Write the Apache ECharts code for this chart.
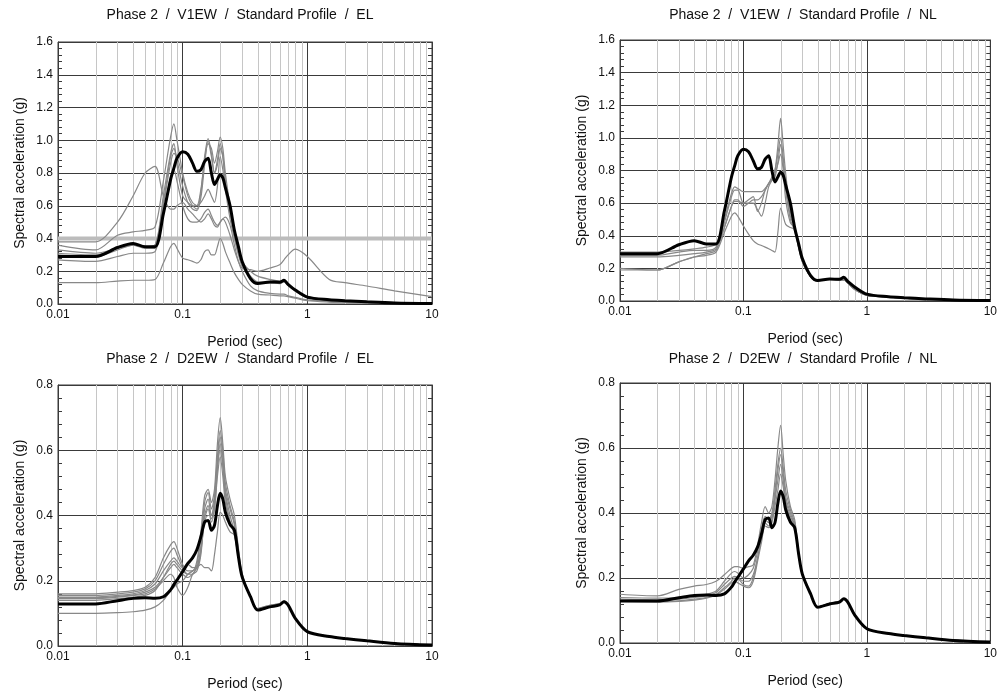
<!DOCTYPE html>
<html>
<head>
<meta charset="utf-8">
<script src="https://cdn.jsdelivr.net/npm/echarts@6/dist/echarts.min.js"></script>
<style>
  html, body { margin: 0; padding: 0; background: #fff; }
  #chart { width: 1000px; height: 696px; }
</style>
</head>
<body>
<div id="chart"></div>
<script>
// Response spectra: spectral acceleration (g) vs period (sec), log period axis.
const periods = [
  0.01, 0.02, 0.03, 0.04, 0.05, 0.06, 0.07, 0.08, 0.085, 0.09,
  0.1, 0.11, 0.12, 0.13, 0.14, 0.15, 0.16, 0.17, 0.18, 0.19,
  0.2, 0.21, 0.22, 0.24, 0.26, 0.28, 0.3, 0.35, 0.4, 0.5,
  0.6, 0.65, 0.7, 0.8, 1, 1.5, 2, 3, 5, 10
];
const xTicks = ['0.01', '0.1', '1', '10'];

// V1EW target (black) — shared by EL and NL
const v1ewTarget = [
  0.29, 0.29, 0.345, 0.37, 0.35, 0.35, 0.55, 0.76, 0.83, 0.89,
  0.93, 0.915, 0.86, 0.81, 0.82, 0.87, 0.89, 0.80, 0.73, 0.76,
  0.79, 0.77, 0.71, 0.60, 0.45, 0.35, 0.26, 0.155, 0.125, 0.135,
  0.133, 0.145, 0.12, 0.085, 0.042, 0.026, 0.02, 0.013, 0.006, 0.003
];

// V1EW / EL records
const v1ewEL1 = [
  0.36, 0.33, 0.42, 0.44, 0.45, 0.47, 0.75, 1.02, 1.10, 1.0,
  0.80, 0.68, 0.62, 0.60, 0.70, 0.88, 0.98, 0.95, 0.86, 0.93,
  1.02, 0.95, 0.80, 0.60, 0.45, 0.34, 0.26, 0.20, 0.17, 0.15,
  0.14, 0.145, 0.125, 0.085, 0.045, 0.025, 0.02, 0.013, 0.006, 0.003
];
const v1ewEL2 = [
  0.38, 0.38, 0.50, 0.66, 0.80, 0.84, 0.66, 0.58, 0.58, 0.60,
  0.62, 0.58, 0.55, 0.52, 0.50, 0.52, 0.55, 0.52, 0.48, 0.47,
  0.50, 0.52, 0.50, 0.42, 0.33, 0.26, 0.22, 0.21, 0.20, 0.22,
  0.24, 0.27, 0.30, 0.335, 0.29, 0.15, 0.13, 0.11, 0.08, 0.045
];
const v1ewEL3 = [
  0.33, 0.31, 0.34, 0.36, 0.35, 0.36, 0.62, 0.90, 0.95, 0.88,
  0.72, 0.62, 0.58, 0.57, 0.65, 0.85, 1.0, 0.90, 0.80, 0.88,
  0.98, 0.90, 0.74, 0.56, 0.42, 0.32, 0.24, 0.16, 0.13, 0.13,
  0.13, 0.14, 0.12, 0.08, 0.04, 0.022, 0.018, 0.012, 0.005, 0.002
];
const v1ewEL4 = [
  0.31, 0.30, 0.34, 0.36, 0.35, 0.36, 0.66, 0.92, 0.98, 0.85,
  0.66, 0.62, 0.60, 0.60, 0.62, 0.66, 0.70, 0.66, 0.62, 0.72,
  0.90, 0.82, 0.70, 0.52, 0.40, 0.30, 0.23, 0.16, 0.13, 0.13,
  0.125, 0.135, 0.115, 0.08, 0.04, 0.022, 0.018, 0.012, 0.005, 0.002
];
const v1ewEL5 = [
  0.27, 0.26, 0.29, 0.31, 0.31, 0.32, 0.55, 0.78, 0.82, 0.75,
  0.60, 0.52, 0.50, 0.50, 0.52, 0.56, 0.58, 0.54, 0.50, 0.48,
  0.50, 0.52, 0.53, 0.48, 0.36, 0.26, 0.20, 0.11, 0.08, 0.065,
  0.06, 0.06, 0.05, 0.04, 0.025, 0.015, 0.012, 0.008, 0.004, 0.002
];
const v1ewEL6 = [
  0.13, 0.13, 0.14, 0.145, 0.145, 0.15, 0.25, 0.35, 0.37, 0.34,
  0.28, 0.27, 0.26, 0.25, 0.27, 0.32, 0.33, 0.30, 0.30, 0.35,
  0.40, 0.37, 0.32, 0.25, 0.19, 0.15, 0.12, 0.08, 0.06, 0.055,
  0.05, 0.05, 0.045, 0.035, 0.02, 0.012, 0.01, 0.007, 0.004, 0.002
];
const v1ewEL7 = [
  0.30, 0.29, 0.33, 0.36, 0.34, 0.34, 0.60, 0.86, 0.92, 0.90,
  0.78, 0.66, 0.60, 0.58, 0.68, 0.90, 1.01, 0.92, 0.80, 0.85,
  0.95, 0.90, 0.76, 0.56, 0.44, 0.33, 0.25, 0.17, 0.135, 0.13,
  0.13, 0.14, 0.12, 0.085, 0.042, 0.024, 0.02, 0.013, 0.006, 0.003
];

// V1EW / NL records
const v1ewNL1 = [
  0.30, 0.30, 0.31, 0.32, 0.33, 0.35, 0.50, 0.66, 0.70, 0.69,
  0.67, 0.67, 0.67, 0.67, 0.67, 0.69, 0.72, 0.76, 0.80, 0.95,
  1.12, 0.95, 0.78, 0.55, 0.45, 0.33, 0.25, 0.15, 0.125, 0.135,
  0.13, 0.13, 0.11, 0.07, 0.035, 0.025, 0.018, 0.012, 0.006, 0.002
];
const v1ewNL2 = [
  0.28, 0.28, 0.30, 0.31, 0.31, 0.33, 0.48, 0.64, 0.68, 0.68,
  0.60, 0.62, 0.64, 0.55, 0.60, 0.68, 0.72, 0.75, 0.80, 0.90,
  1.0, 0.88, 0.72, 0.52, 0.45, 0.34, 0.25, 0.15, 0.125, 0.135,
  0.13, 0.13, 0.11, 0.07, 0.035, 0.025, 0.018, 0.012, 0.006, 0.002
];
const v1ewNL3 = [
  0.27, 0.27, 0.28, 0.29, 0.30, 0.32, 0.45, 0.58, 0.61, 0.61,
  0.60, 0.60, 0.60, 0.56, 0.52, 0.60, 0.70, 0.74, 0.78, 0.84,
  0.90, 0.80, 0.62, 0.48, 0.45, 0.35, 0.24, 0.15, 0.125, 0.135,
  0.13, 0.13, 0.11, 0.07, 0.035, 0.025, 0.018, 0.012, 0.006, 0.002
];
const v1ewNL4 = [
  0.20, 0.19, 0.24, 0.27, 0.28, 0.30, 0.42, 0.52, 0.54, 0.52,
  0.46, 0.41, 0.37, 0.35, 0.34, 0.33, 0.32, 0.31, 0.30, 0.42,
  0.57, 0.52, 0.47, 0.45, 0.44, 0.33, 0.24, 0.15, 0.125, 0.135,
  0.13, 0.13, 0.11, 0.07, 0.035, 0.025, 0.018, 0.012, 0.006, 0.002
];
const v1ewNL5 = [
  0.19, 0.19, 0.24, 0.27, 0.29, 0.31, 0.45, 0.58, 0.62, 0.62,
  0.58, 0.60, 0.62, 0.62, 0.64, 0.68, 0.72, 0.74, 0.76, 0.85,
  0.96, 0.84, 0.68, 0.50, 0.43, 0.33, 0.25, 0.15, 0.125, 0.135,
  0.13, 0.13, 0.11, 0.07, 0.035, 0.025, 0.018, 0.012, 0.006, 0.002
];

// D2EW target (black) — shared by EL and NL
const d2ewTarget = [
  0.129, 0.129, 0.139, 0.146, 0.148, 0.146, 0.151, 0.172, 0.188, 0.202,
  0.228, 0.253, 0.27, 0.295, 0.335, 0.38, 0.385, 0.355, 0.37, 0.43,
  0.468, 0.45, 0.41, 0.372, 0.355, 0.274, 0.212, 0.151, 0.11, 0.12,
  0.126, 0.136, 0.126, 0.085, 0.044, 0.029, 0.023, 0.016, 0.008, 0.003
];

// D2EW / EL records
const d2ewEL1 = [
  0.16, 0.16, 0.165, 0.17, 0.18, 0.21, 0.27, 0.31, 0.32, 0.30,
  0.25, 0.23, 0.23, 0.26, 0.35, 0.46, 0.48, 0.44, 0.48, 0.62,
  0.70, 0.62, 0.52, 0.45, 0.40, 0.30, 0.22, 0.15, 0.115, 0.125,
  0.13, 0.138, 0.126, 0.085, 0.044, 0.029, 0.023, 0.016, 0.008, 0.003
];
const d2ewEL2 = [
  0.155, 0.155, 0.16, 0.165, 0.175, 0.20, 0.25, 0.29, 0.30, 0.28,
  0.24, 0.22, 0.22, 0.25, 0.33, 0.44, 0.47, 0.42, 0.46, 0.58,
  0.66, 0.60, 0.50, 0.43, 0.38, 0.29, 0.22, 0.15, 0.115, 0.125,
  0.13, 0.138, 0.126, 0.085, 0.044, 0.029, 0.023, 0.016, 0.008, 0.003
];
const d2ewEL3 = [
  0.15, 0.15, 0.155, 0.16, 0.17, 0.19, 0.23, 0.26, 0.27, 0.26,
  0.24, 0.25, 0.24, 0.24, 0.30, 0.42, 0.45, 0.40, 0.44, 0.56,
  0.64, 0.58, 0.48, 0.42, 0.37, 0.28, 0.21, 0.15, 0.11, 0.122,
  0.128, 0.136, 0.126, 0.085, 0.044, 0.029, 0.023, 0.016, 0.008, 0.003
];
const d2ewEL4 = [
  0.148, 0.148, 0.152, 0.156, 0.165, 0.18, 0.21, 0.24, 0.25, 0.24,
  0.22, 0.21, 0.22, 0.23, 0.28, 0.40, 0.43, 0.39, 0.42, 0.54,
  0.62, 0.56, 0.47, 0.40, 0.35, 0.28, 0.21, 0.15, 0.11, 0.122,
  0.128, 0.136, 0.126, 0.085, 0.044, 0.029, 0.023, 0.016, 0.008, 0.003
];
const d2ewEL5 = [
  0.145, 0.145, 0.15, 0.155, 0.16, 0.175, 0.20, 0.22, 0.21, 0.18,
  0.155, 0.18, 0.22, 0.24, 0.30, 0.38, 0.40, 0.40, 0.45, 0.55,
  0.60, 0.55, 0.46, 0.38, 0.34, 0.27, 0.21, 0.15, 0.11, 0.122,
  0.128, 0.136, 0.126, 0.085, 0.044, 0.029, 0.023, 0.016, 0.008, 0.003
];
const d2ewEL6 = [
  0.14, 0.14, 0.145, 0.15, 0.155, 0.17, 0.21, 0.25, 0.26, 0.25,
  0.23, 0.22, 0.23, 0.24, 0.29, 0.39, 0.42, 0.38, 0.42, 0.52,
  0.58, 0.52, 0.44, 0.38, 0.35, 0.28, 0.21, 0.15, 0.11, 0.122,
  0.128, 0.136, 0.126, 0.085, 0.044, 0.029, 0.023, 0.016, 0.008, 0.003
];
const d2ewEL7 = [
  0.10, 0.10, 0.102, 0.105, 0.11, 0.12, 0.14, 0.17, 0.18, 0.19,
  0.20, 0.22, 0.23, 0.24, 0.25, 0.24, 0.24, 0.23, 0.28, 0.35,
  0.41, 0.40, 0.38, 0.35, 0.34, 0.27, 0.21, 0.15, 0.11, 0.122,
  0.128, 0.136, 0.126, 0.085, 0.044, 0.029, 0.023, 0.016, 0.008, 0.003
];

// D2EW / NL records
const d2ewNL1 = [
  0.15, 0.145, 0.165, 0.175, 0.18, 0.19, 0.21, 0.23, 0.235, 0.235,
  0.23, 0.235, 0.24, 0.30, 0.37, 0.42, 0.40, 0.42, 0.50, 0.60,
  0.67, 0.58, 0.50, 0.42, 0.38, 0.28, 0.21, 0.15, 0.11, 0.122,
  0.128, 0.136, 0.126, 0.085, 0.044, 0.029, 0.023, 0.016, 0.008, 0.003
];
const d2ewNL2 = [
  0.14, 0.138, 0.14, 0.145, 0.15, 0.16, 0.19, 0.215, 0.22, 0.215,
  0.20, 0.21, 0.23, 0.28, 0.35, 0.39, 0.38, 0.40, 0.47, 0.55,
  0.60, 0.54, 0.47, 0.41, 0.37, 0.28, 0.21, 0.15, 0.11, 0.122,
  0.128, 0.136, 0.126, 0.085, 0.044, 0.029, 0.023, 0.016, 0.008, 0.003
];
const d2ewNL3 = [
  0.135, 0.133, 0.135, 0.14, 0.145, 0.155, 0.18, 0.20, 0.205, 0.20,
  0.18, 0.175, 0.20, 0.26, 0.33, 0.38, 0.37, 0.39, 0.45, 0.53,
  0.58, 0.52, 0.45, 0.40, 0.36, 0.27, 0.21, 0.15, 0.11, 0.122,
  0.128, 0.136, 0.126, 0.085, 0.044, 0.029, 0.023, 0.016, 0.008, 0.003
];
const d2ewNL4 = [
  0.13, 0.128, 0.13, 0.135, 0.14, 0.15, 0.17, 0.19, 0.20, 0.20,
  0.19, 0.19, 0.21, 0.26, 0.32, 0.37, 0.36, 0.38, 0.44, 0.50,
  0.55, 0.50, 0.44, 0.39, 0.36, 0.27, 0.21, 0.15, 0.11, 0.122,
  0.128, 0.136, 0.126, 0.085, 0.044, 0.029, 0.023, 0.016, 0.008, 0.003
];
const d2ewNL5 = [
  0.128, 0.126, 0.128, 0.132, 0.138, 0.148, 0.165, 0.185, 0.19, 0.185,
  0.175, 0.17, 0.19, 0.25, 0.31, 0.36, 0.355, 0.37, 0.42, 0.47,
  0.52, 0.48, 0.43, 0.38, 0.35, 0.27, 0.21, 0.15, 0.11, 0.122,
  0.128, 0.136, 0.126, 0.085, 0.044, 0.029, 0.023, 0.016, 0.008, 0.003
];

const titles = [
  'Phase 2  /  V1EW  /  Standard Profile  /  EL',
  'Phase 2  /  V1EW  /  Standard Profile  /  NL',
  'Phase 2  /  D2EW  /  Standard Profile  /  EL',
  'Phase 2  /  D2EW  /  Standard Profile  /  NL'
];
const yMaxes = [1.6, 1.6, 0.8, 0.8];
const xName = 'Period (sec)';
const yName = 'Spectral acceleration (g)';
const elThreshold = [0.4]; // reference level shown on the V1EW / EL panel

const panels = [
  { gray: [v1ewEL1, v1ewEL2, v1ewEL3, v1ewEL4, v1ewEL5, v1ewEL6, v1ewEL7], target: v1ewTarget,
    rect: { left: 58, top: 42, width: 374, height: 262 }, titlePos: [240, 15], bands: elThreshold },
  { gray: [v1ewNL1, v1ewNL2, v1ewNL3, v1ewNL4, v1ewNL5], target: v1ewTarget,
    rect: { left: 620, top: 40, width: 373, height: 261 }, titlePos: [803, 15], bands: [] },
  { gray: [d2ewEL1, d2ewEL2, d2ewEL3, d2ewEL4, d2ewEL5, d2ewEL6, d2ewEL7], target: d2ewTarget,
    rect: { left: 58, top: 385, width: 374, height: 261 }, titlePos: [240, 359], bands: [] },
  { gray: [d2ewNL1, d2ewNL2, d2ewNL3, d2ewNL4, d2ewNL5], target: d2ewTarget,
    rect: { left: 620, top: 383, width: 373, height: 260 }, titlePos: [803, 359], bands: [] }
];

// Light vertical rules at 2..9 of each decade
const minorPeriods = [];
[0.01, 0.1, 1].forEach(d => { for (let k = 2; k <= 9; k++) minorPeriods.push(+(d * k).toPrecision(3)); });

const FONT = '"Liberation Sans", Arial, Helvetica, sans-serif';
const INK = '#111';
const RULE = '#3a3a3a';
const X_MIN = 0.01, X_MAX = 10;

const pairs = vals => periods.map((p, i) => [p, vals[i]]);

const grid = [], xAxis = [], yAxis = [], series = [], graphic = [];

panels.forEach((pn, i) => {
  const ymax = yMaxes[i];
  grid.push(Object.assign({ show: true, borderColor: RULE, borderWidth: 1, backgroundColor: 'transparent' }, pn.rect));

  xAxis.push({
    type: 'log', logBase: 10, gridIndex: i, min: X_MIN, max: X_MAX,
    name: xName, nameLocation: 'middle', nameGap: 31,
    nameTextStyle: { fontFamily: FONT, fontSize: 14, color: INK },
    axisLine: { show: true, lineStyle: { color: RULE, width: 1 } },
    axisTick: { show: false },
    axisLabel: {
      margin: 5, fontFamily: FONT, fontSize: 12, color: INK,
      formatter: v => xTicks.find(t => Math.abs(+t - v) / v < 1e-6) || ''
    },
    splitLine: { show: true, lineStyle: { color: RULE, width: 1 } }
  });

  yAxis.push({
    type: 'value', gridIndex: i, min: 0, max: ymax, interval: 0.2,
    name: yName, nameLocation: 'middle', nameGap: 31, nameRotate: 90,
    nameTextStyle: { fontFamily: FONT, fontSize: 14, color: INK },
    axisLine: { show: true, lineStyle: { color: RULE, width: 1 } },
    axisTick: { show: true, inside: true, length: 6, lineStyle: { color: RULE } },
    minorTick: { show: true, splitNumber: 5, length: 4, lineStyle: { color: RULE } },
    axisLabel: { margin: 5, fontFamily: FONT, fontSize: 12, color: INK, formatter: v => v.toFixed(1) },
    splitLine: { show: true, lineStyle: { color: RULE, width: 1 } }
  });
  yAxis.push({
    type: 'value', gridIndex: i, min: 0, max: ymax, interval: 0.2, position: 'right',
    axisLine: { show: true, lineStyle: { color: RULE, width: 1 } },
    axisTick: { show: true, inside: true, length: 6, lineStyle: { color: RULE } },
    minorTick: { show: true, splitNumber: 5, length: 4, lineStyle: { color: RULE } },
    axisLabel: { show: false },
    splitLine: { show: false }
  });

  // minor period rules
  series.push({
    type: 'custom', xAxisIndex: i, yAxisIndex: 2 * i, silent: true, z: 1,
    data: minorPeriods.map(p => [p]),
    encode: { x: 0 },
    renderItem: (params, api) => {
      const p = api.value(0);
      const a = api.coord([p, 0]);
      const b = api.coord([p, ymax]);
      return {
        type: 'line',
        shape: { x1: Math.round(a[0]) + 0.5, y1: a[1], x2: Math.round(b[0]) + 0.5, y2: b[1] },
        style: { stroke: '#c6c6c6', lineWidth: 1 }
      };
    }
  });

  // horizontal reference band(s), below the curves
  if (pn.bands.length) {
    series.push({
      type: 'custom', xAxisIndex: i, yAxisIndex: 2 * i, silent: true, z: 1,
      data: pn.bands.map(v => [v]),
      encode: { y: 0 },
      renderItem: (params, api) => {
        const v = api.value(0);
        const a = api.coord([X_MIN, v]);
        const b = api.coord([X_MAX, v]);
        return {
          type: 'line',
          shape: { x1: a[0], y1: a[1], x2: b[0], y2: b[1] },
          style: { stroke: '#bcbcbc', lineWidth: 4 }
        };
      }
    });
  }

  pn.gray.forEach(vals => {
    series.push({
      type: 'line', xAxisIndex: i, yAxisIndex: 2 * i, silent: true, z: 2,
      data: pairs(vals), showSymbol: false, smooth: 0.3,
      lineStyle: { color: '#888888', width: 1.2 }
    });
  });

  series.push({
    type: 'line', xAxisIndex: i, yAxisIndex: 2 * i, silent: true, z: 3,
    data: pairs(pn.target), showSymbol: false, smooth: 0.3,
    lineStyle: { color: '#000', width: 3 }
  });

  graphic.push({
    type: 'text', x: pn.titlePos[0], y: pn.titlePos[1], silent: true,
    style: { text: titles[i], fontFamily: FONT, fontSize: 14, fill: INK, align: 'center', verticalAlign: 'middle' }
  });
});

const chart = echarts.init(document.getElementById('chart'), null, { renderer: 'canvas' });
chart.setOption({
  animation: false,
  backgroundColor: '#fff',
  grid, xAxis, yAxis, series, graphic
});
</script>
</body>
</html>
